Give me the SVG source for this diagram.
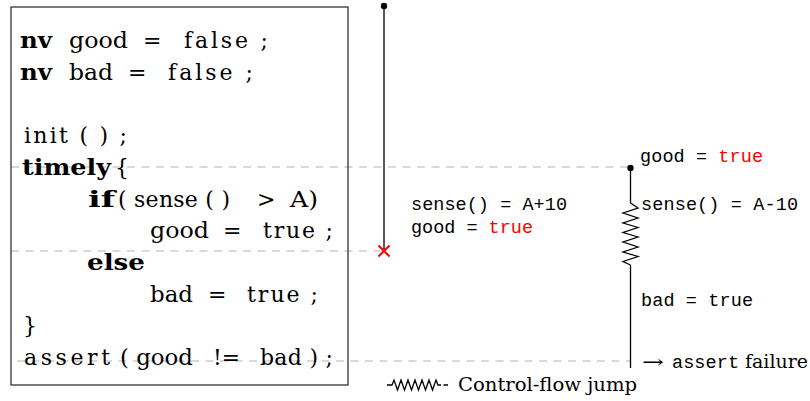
<svg xmlns="http://www.w3.org/2000/svg" width="810" height="401" viewBox="0 0 810 401">
<style>
.code{font-family:'DejaVu Serif',serif;font-size:22px;fill:#000}
.b{font-weight:bold}
.tt{font-family:'Liberation Mono','DejaVu Sans Mono',monospace;font-size:18.5px;fill:#000}
.rm{font-family:'DejaVu Serif',serif;font-size:18px;fill:#000}
.red{fill:#ff0000}
.dash{stroke:#b4b4b4;stroke-width:1.1;stroke-dasharray:8 6.5;fill:none}
.line{stroke:#000;stroke-width:1.3;fill:none}
</style>
<rect width="810" height="401" fill="#fff"/>
<g id="connectors">
  <line class="dash" x1="11" y1="167" x2="630" y2="167"/>
  <line class="dash" x1="11" y1="251" x2="384" y2="251"/>
  <line class="dash" x1="17" y1="361" x2="630" y2="361"/>
</g>
<g id="code">
  <rect x="11" y="7" width="337" height="378" fill="none" stroke="#222" stroke-width="1.2"/>
  <text class="code b" x="20" y="48" textLength="32" lengthAdjust="spacingAndGlyphs">nv</text>
  <text class="code" x="69" y="48" textLength="59" lengthAdjust="spacingAndGlyphs">good</text>
  <text class="code" x="143" y="48">=</text>
  <text class="code" x="184" y="48" textLength="84" lengthAdjust="spacing">false ;</text>
  <text class="code b" x="20" y="79.5" textLength="32" lengthAdjust="spacingAndGlyphs">nv</text>
  <text class="code" x="69" y="79.5" textLength="44" lengthAdjust="spacingAndGlyphs">bad</text>
  <text class="code" x="128" y="79.5">=</text>
  <text class="code" x="168" y="79.5" textLength="85" lengthAdjust="spacing">false ;</text>
  <text class="code" x="24" y="143" textLength="103" lengthAdjust="spacing">init ( ) ;</text>
  <text class="code b" x="22" y="175" textLength="89" lengthAdjust="spacingAndGlyphs">timely</text>
  <text class="code" x="115" y="175">{</text>
  <text class="code b" x="88" y="206.5" textLength="27" lengthAdjust="spacingAndGlyphs">if</text>
  <text class="code" x="118" y="206.5" textLength="112" lengthAdjust="spacing">( sense ( )</text>
  <text class="code" x="257" y="206.5">&gt;</text>
  <text class="code" x="290" y="206.5" textLength="28" lengthAdjust="spacingAndGlyphs">A)</text>
  <text class="code" x="150" y="238" textLength="59" lengthAdjust="spacingAndGlyphs">good</text>
  <text class="code" x="223" y="238">=</text>
  <text class="code" x="263" y="238" textLength="70" lengthAdjust="spacing">true ;</text>
  <text class="code b" x="87" y="270" textLength="58" lengthAdjust="spacingAndGlyphs">else</text>
  <text class="code" x="150" y="301.5" textLength="43" lengthAdjust="spacingAndGlyphs">bad</text>
  <text class="code" x="208" y="301.5">=</text>
  <text class="code" x="247" y="301.5" textLength="71" lengthAdjust="spacing">true ;</text>
  <text class="code" x="23" y="333">}</text>
  <text class="code" x="24" y="365" textLength="86" lengthAdjust="spacing">assert</text>
  <text class="code" x="120" y="365" textLength="73" lengthAdjust="spacingAndGlyphs">( good</text>
  <text class="code" x="213" y="365" textLength="27" lengthAdjust="spacingAndGlyphs">!=</text>
  <text class="code" x="260" y="365" textLength="73" lengthAdjust="spacing">bad ) ;</text>
</g>
<g id="run1">
  <line class="line" x1="384" y1="6" x2="384" y2="251"/>
  <circle cx="384" cy="6" r="3.2" fill="#000"/>
  <path d="M378.5 245.5 L389.5 256.5 M389.5 245.5 L378.5 256.5" stroke="#ff0000" stroke-width="2" fill="none"/>
  <text class="tt" x="411" y="210" textLength="156" lengthAdjust="spacing">sense() = A+10</text>
  <text class="tt" x="411" y="233" textLength="122" lengthAdjust="spacing">good = <tspan class="red">true</tspan></text>
</g>
<g id="run2">
  <line class="line" x1="630.5" y1="168" x2="630.5" y2="203"/>
  <polyline class="line" points="630.5,203 638,208 623,213 638,218 623,223 638,227.5 623,232.5 638,237 623,242 638,247 623,252 638,256.5 623,261.5 630.5,265"/>
  <line class="line" x1="630.5" y1="265" x2="630.5" y2="368"/>
  <circle cx="630.5" cy="168" r="3.2" fill="#000"/>
  <text class="tt" x="640" y="162" textLength="123" lengthAdjust="spacing">good = <tspan class="red">true</tspan></text>
  <text class="tt" x="641" y="210" textLength="157" lengthAdjust="spacing">sense() = A-10</text>
  <text class="tt" x="641" y="306" textLength="112" lengthAdjust="spacing">bad = true</text>
  <text class="rm" x="642" y="368" textLength="22" lengthAdjust="spacingAndGlyphs">→</text>
  <text class="tt" x="672" y="368" textLength="67" lengthAdjust="spacing">assert</text>
  <text class="rm" x="745" y="368" textLength="63" lengthAdjust="spacingAndGlyphs">failure</text>
</g>
<g id="legend">
  <path class="line" stroke-width="1" d="M387 385 H392 L394 380 L397.5 390 L401 380 L404.5 390 L408 380 L411.5 390 L415 380 L418.5 390 L422 380 L425.5 390 L429 380 L432.5 390 L436 380 L438 385 H441 M443.5 385 H448"/>
  <text class="rm" x="458" y="391" textLength="179" lengthAdjust="spacingAndGlyphs">Control-flow jump</text>
</g>
</svg>
